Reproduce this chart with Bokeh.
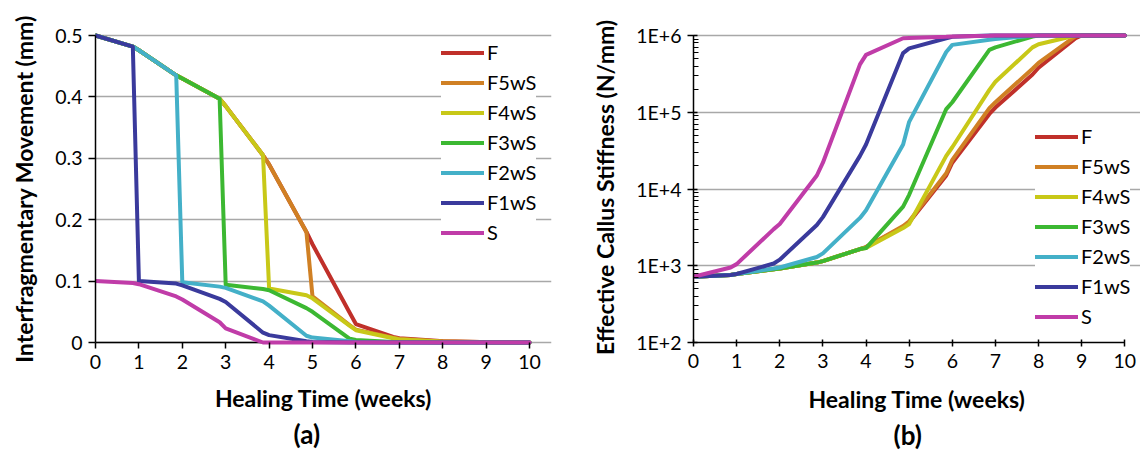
from bokeh.plotting import figure
from bokeh.layouts import row
from bokeh.models import Range1d, FixedTicker, CustomJSTickFormatter, Title
from bokeh.embed import file_html
from bokeh.resources import INLINE

# ---------------- data ----------------
weeks = [0, 0.86, 1, 1.86, 2, 2.86, 3, 3.86, 4, 4.86, 5, 5.86, 6, 6.86, 7, 7.86, 8, 8.86, 9, 10]
series_names = ["F", "F5wS", "F4wS", "F3wS", "F2wS", "F1wS", "S"]

mov_F    = [0.5, 0.482, 0.476, 0.435, 0.430, 0.397, 0.385, 0.305, 0.290, 0.180, 0.160, 0.048, 0.030, 0.009, 0.007, 0.003, 0.002, 0.001, 0.001, 0.0]
mov_F5wS = [0.5, 0.482, 0.476, 0.435, 0.430, 0.397, 0.385, 0.305, 0.290, 0.180, 0.075, 0.028, 0.021, 0.008, 0.006, 0.002, 0.002, 0.001, 0.001, 0.0]
mov_F4wS = [0.5, 0.482, 0.476, 0.435, 0.430, 0.397, 0.385, 0.305, 0.088, 0.077, 0.072, 0.027, 0.020, 0.007, 0.005, 0.002, 0.001, 0.001, 0.0, 0.0]
mov_F3wS = [0.5, 0.482, 0.476, 0.435, 0.430, 0.397, 0.094, 0.087, 0.085, 0.056, 0.050, 0.006, 0.004, 0.001, 0.001, 0.0, 0.0, 0.0, 0.0, 0.0]
mov_F2wS = [0.5, 0.482, 0.476, 0.435, 0.098, 0.091, 0.089, 0.067, 0.060, 0.011, 0.008, 0.002, 0.001, 0.0, 0.0, 0.0, 0.0, 0.0, 0.0, 0.0]
mov_F1wS = [0.5, 0.482, 0.100, 0.096, 0.093, 0.071, 0.066, 0.016, 0.012, 0.002, 0.001, 0.0, 0.0, 0.0, 0.0, 0.0, 0.0, 0.0, 0.0, 0.0]
mov_S    = [0.1, 0.097, 0.095, 0.075, 0.070, 0.033, 0.023, 0.0, 0.0, 0.0, 0.0, 0.0, 0.0, 0.0, 0.0, 0.0, 0.0, 0.0, 0.0, 0.0]

stiff_F    = [720, 760, 780, 900, 920, 1100, 1150, 1650, 1750, 3200, 3700, 15000, 22000, 95000, 115000, 310000, 380000, 920000, 1e6, 1e6]
stiff_F5wS = [720, 760, 780, 900, 920, 1100, 1150, 1650, 1750, 3300, 3800, 16000, 24000, 113000, 135000, 370000, 440000, 980000, 1e6, 1e6]
stiff_F4wS = [720, 760, 780, 900, 920, 1100, 1150, 1650, 1700, 3100, 3500, 27000, 35000, 196000, 250000, 700000, 770000, 1e6, 1e6, 1e6]
stiff_F3wS = [720, 760, 780, 900, 920, 1100, 1150, 1650, 1700, 5900, 8400, 110000, 135000, 650000, 700000, 970000, 1e6, 1e6, 1e6, 1e6]
stiff_F2wS = [720, 760, 780, 920, 950, 1300, 1450, 4200, 5300, 38000, 75000, 610000, 755000, 880000, 900000, 990000, 1e6, 1e6, 1e6, 1e6]
stiff_F1wS = [720, 760, 780, 1070, 1200, 3400, 4300, 27000, 38000, 590000, 680000, 920000, 960000, 1e6, 1e6, 1e6, 1e6, 1e6, 1e6, 1e6]
stiff_S    = [720, 950, 1050, 3000, 3500, 15000, 22000, 420000, 560000, 920000, 930000, 960000, 970000, 990000, 1e6, 1e6, 1e6, 1e6, 1e6, 1e6]

movement = [mov_F, mov_F5wS, mov_F4wS, mov_F3wS, mov_F2wS, mov_F1wS, mov_S]
stiffness = [stiff_F, stiff_F5wS, stiff_F4wS, stiff_F3wS, stiff_F2wS, stiff_F1wS, stiff_S]

x_ticks = list(range(11))
mov_ticks = [0, 0.1, 0.2, 0.3, 0.4, 0.5]
stiff_ticks = [1e2, 1e3, 1e4, 1e5, 1e6]

# ---------------- styles ----------------
colors = ["#C0302A", "#D08024", "#C8C818", "#3CB832", "#44B0C8", "#3A3A9C", "#C03CA8"]
FONT = "Lato"
LW = 4
GRID = "#A8A8A8"


def style_common(p):
    p.outline_line_color = None
    p.background_fill_color = "white"
    p.border_fill_color = "white"
    p.xgrid.visible = False
    p.ygrid.grid_line_color = GRID
    p.ygrid.grid_line_width = 1.3
    p.ygrid.bounds = (0, 10)
    for ax in (p.xaxis[0], p.yaxis[0]):
        ax.axis_line_color = "black"
        ax.axis_line_width = 1.5
        ax.major_tick_line_color = "black"
        ax.major_tick_line_width = 1.5
        ax.minor_tick_line_color = None
        ax.major_label_text_font = FONT
        ax.major_label_text_font_size = "19.5px"
        ax.major_label_text_color = "black"
        ax.axis_label_text_font = FONT
        ax.axis_label_text_font_size = "23px"
        ax.axis_label_text_font_style = "bold"
        ax.axis_label_text_color = "black"
    p.xaxis.bounds = (0, 10)
    p.yaxis.major_label_standoff = 6
    p.yaxis.axis_label_standoff = 14


def style_legend(p, x, y):
    lg = p.legend[0]
    lg.location = (x, y)
    lg.border_line_color = None
    lg.background_fill_color = "white"
    lg.background_fill_alpha = 1.0
    lg.padding = 5
    lg.margin = 0
    lg.spacing = 6
    lg.glyph_width = 43
    lg.glyph_height = 23
    lg.label_height = 23
    lg.label_standoff = 3
    lg.label_text_font = FONT
    lg.label_text_font_size = "20px"
    lg.label_text_color = "black"


def add_caption(p, text, standoff, offset):
    p.add_layout(Title(text=text, align="left", text_font=FONT, text_font_size="26px",
                       text_font_style="bold", text_color="black", standoff=standoff,
                       offset=offset), "below")


# ---------------- (a) movement ----------------
px_a = 0.5 / 307.0          # data units per pixel
pad_a = 3 * px_a
fw_a = 456
p1 = figure(width=580, height=453, frame_width=fw_a, frame_height=313,
            x_range=Range1d(0, 10 * fw_a / 434.0),
            y_range=Range1d(-pad_a, 0.5 + pad_a),
            output_backend="svg", toolbar_location=None,
            min_border_left=95, min_border_right=29, min_border_top=32, min_border_bottom=0)
style_common(p1)
p1.xaxis.ticker = FixedTicker(ticks=x_ticks)
p1.yaxis.ticker = FixedTicker(ticks=mov_ticks)
p1.ygrid.ticker = FixedTicker(ticks=mov_ticks)
p1.yaxis.bounds = (0, 0.5)
p1.xaxis.axis_line_color = None
p1.xaxis.major_tick_in = 3
p1.xaxis.major_tick_out = 3
p1.xaxis.major_label_standoff = 6
p1.xaxis.axis_label_standoff = 12
p1.yaxis.major_tick_in = 0
p1.yaxis.major_tick_out = 7
p1.yaxis.formatter = CustomJSTickFormatter(code="return tick == 0 ? '0' : tick.toFixed(1);")
p1.xaxis.axis_label = "Healing Time (weeks)"
p1.yaxis.axis_label = "Interfragmentary Movement (mm)"

# x axis line at movement = 0 (drawn beneath the curves, as in the source)
p1.segment(x0=[x_ticks[0]], y0=[mov_ticks[0]], x1=[x_ticks[-1]], y1=[mov_ticks[0]],
           line_color="black", line_width=1.5)
for name, vals, c in zip(series_names, movement, colors):
    p1.line(weeks, vals, line_color=c, line_width=LW, line_join="round", line_cap="round",
            legend_label=name)
style_legend(p1, 346, 101)
add_caption(p1, "(a)", 3, 198)

# ---------------- (b) stiffness ----------------
fac = 10 ** (3 / 76.675)
fw_b = 447
p2 = figure(width=560, height=453, frame_width=fw_b, frame_height=310,
            x_range=Range1d(0, 10 * fw_b / 431.3),
            y_range=Range1d(100, 1e6 * fac), y_axis_type="log",
            output_backend="svg", toolbar_location=None,
            min_border_left=113, min_border_right=0, min_border_top=30, min_border_bottom=0)
style_common(p2)
minor = [k * d for d in (1e2, 1e3, 1e4, 1e5) for k in range(2, 10)]
p2.xaxis.ticker = FixedTicker(ticks=x_ticks)
p2.yaxis.ticker = FixedTicker(ticks=stiff_ticks, minor_ticks=minor)
p2.ygrid.ticker = FixedTicker(ticks=stiff_ticks)
p2.yaxis.bounds = (100, 1e6)
p2.xaxis.major_tick_in = 3
p2.xaxis.major_tick_out = 4
p2.xaxis.major_label_standoff = 7
p2.xaxis.axis_label_standoff = 14
p2.yaxis.major_tick_in = 4
p2.yaxis.major_tick_out = 6
p2.yaxis.minor_tick_line_color = "black"
p2.yaxis.minor_tick_line_width = 1.2
p2.yaxis.minor_tick_in = 5
p2.yaxis.minor_tick_out = 0
p2.yaxis.formatter = CustomJSTickFormatter(code="return '1E+' + Math.round(Math.log10(tick));")
p2.xaxis.axis_label = "Healing Time (weeks)"
p2.yaxis.axis_label = "Effective Callus Stiffness (N/mm)"

for name, vals, c in zip(series_names, stiffness, colors):
    p2.line(weeks, vals, line_color=c, line_width=LW, line_join="round", line_cap="round",
            legend_label=name)
style_legend(p2, 342, 14)
add_caption(p2, "(b)", 3, 200)

layout = row(p1, p2)
open("out.html", "w").write(file_html(layout, INLINE))
